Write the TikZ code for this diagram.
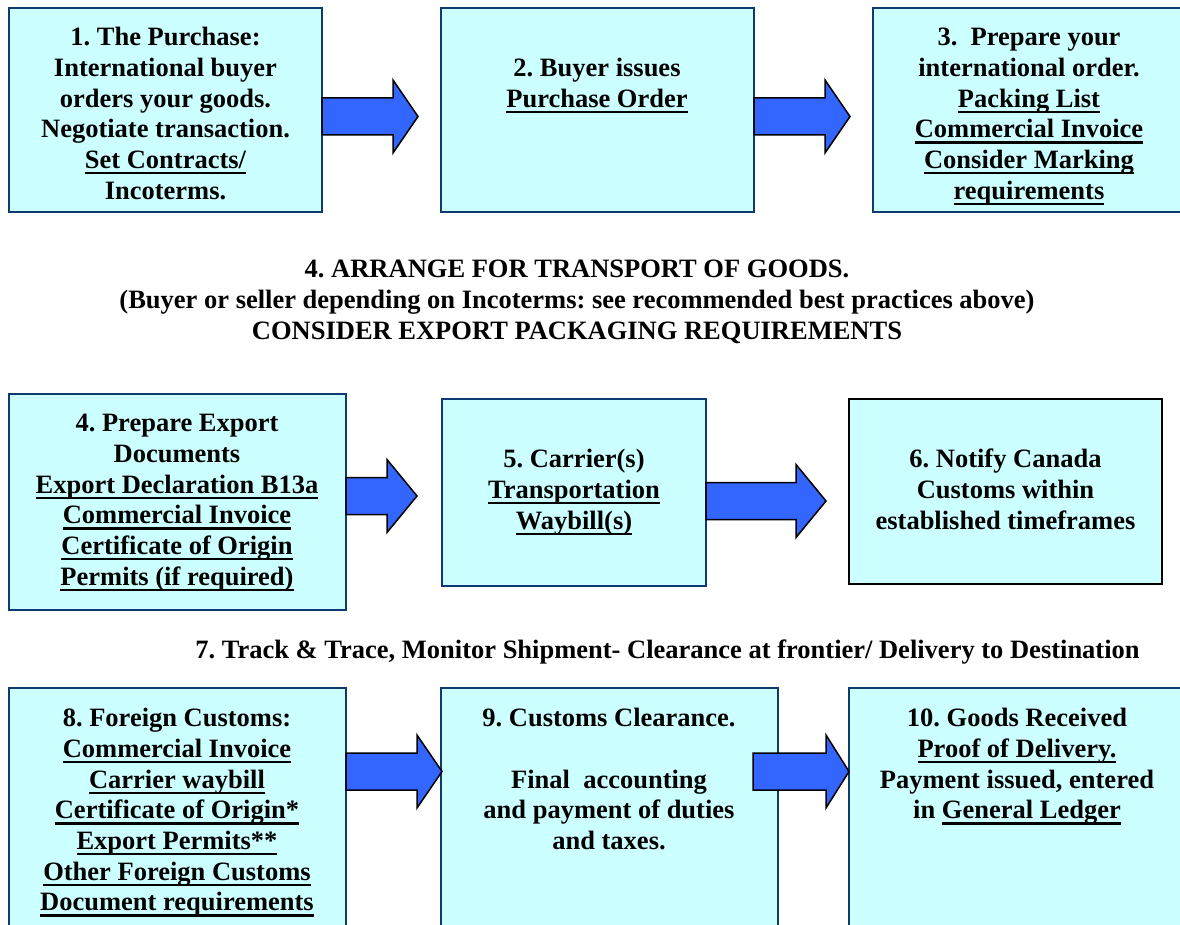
\documentclass[tikz,border=0pt]{standalone}
\usepackage{fontspec}
\setmainfont{Liberation Serif}
\usetikzlibrary{calc}
\frenchspacing
\definecolor{boxfill}{HTML}{CCFFFF}
\definecolor{boxline}{HTML}{0D3B70}
\definecolor{arrfill}{HTML}{3366FF}
\newsavebox{\ulbox}
\newcommand{\ulx}[1]{\sbox{\ulbox}{#1}\leavevmode\rlap{\rule[-6pt]{\wd\ulbox}{2.4pt}}\usebox{\ulbox}}
% #1 start point, #2 tip point, #3 head length
\newcommand{\blockarrow}[3]{%
  \filldraw[barrow] let \p1=(#1), \p2=(#2) in
    (\x1,\y2+18.5pt) -- (\x2-#3,\y2+18.5pt) -- (\x2-#3,\y2+36.5pt) -- (\p2)
    -- (\x2-#3,\y2-36.5pt) -- (\x2-#3,\y2-18.5pt) -- (\x1,\y2-18.5pt) -- cycle;}
\begin{document}
\begin{tikzpicture}[x=1pt,y=-1pt,
  box/.style={draw=boxline, line width=2.2pt, fill=boxfill, rectangle, anchor=north west, inner sep=0pt, outer sep=0pt},
  blackbox/.style={box, draw=black, line width=2.8pt},
  txt/.style={anchor=north, inner sep=0pt, align=center, font=\frenchspacing\bfseries\fontsize{26.5}{30.7}\selectfont},
  barrow/.style={fill=arrfill, draw=black, line width=1.5pt, line join=miter}]
\useasboundingbox (0,0) rectangle (1180,925);
% row 1
\node[box, minimum width=313pt, minimum height=204pt] (b1) at (9,8) {};
\node[box, minimum width=313pt, minimum height=204pt] (b2) at (441,8) {};
\node[box, minimum width=312pt, minimum height=204pt] (b3) at (873,8) {};
\node[txt] (t1) at (165.5,24) {\strut 1. The Purchase:\\ International buyer\\ orders your goods.\\ Negotiate transaction.\\ \ulx{Set Contracts/}\\ Incoterms.};
\node[txt] (t2) at (597,55) {\strut 2. Buyer issues\\ \ulx{Purchase Order}};
\node[txt] (t3) at (1029,24) {\strut 3.\ \ Prepare your\\ international order.\\ \ulx{Packing List}\\ \ulx{Commercial Invoice}\\ \ulx{Consider Marking}\\ \ulx{requirements}};
\coordinate (a1t) at (418,116.5);
\coordinate (a2t) at (850,116.5);
\blockarrow{b1.east}{a1t}{25pt}
\blockarrow{b2.east}{a2t}{25pt}
% title
\node[txt] (tt) at (577,256) {\strut 4. ARRANGE FOR TRANSPORT OF GOODS.\\ (Buyer or seller depending on Incoterms: see recommended best practices above)\\ CONSIDER EXPORT PACKAGING REQUIREMENTS};
% row 2
\node[box, minimum width=337pt, minimum height=216pt] (b4) at (9,394) {};
\node[box, minimum width=264pt, minimum height=187pt] (b5) at (442,399) {};
\node[blackbox, minimum width=313pt, minimum height=185pt] (b6) at (849,399) {};
\node[txt] (t4) at (177,410) {\strut 4. Prepare Export\\ Documents\\ \ulx{Export Declaration B13a}\\ \ulx{Commercial Invoice}\\ \ulx{Certificate of Origin}\\ \ulx{Permits (if required)}};
\node[txt] (t5) at (574,446) {\strut 5. Carrier(s)\\ \ulx{Transportation}\\ \ulx{Waybill(s)}};
\node[txt] (t6) at (1005.5,446) {\strut 6. Notify Canada\\ Customs within\\ established timeframes};
\coordinate (a3t) at (417,496);
\coordinate (a4t) at (826,501);
\blockarrow{b4.east}{a3t}{30pt}
\blockarrow{b5.east}{a4t}{30pt}
% line 7
\node[txt] (t7) at (667.5,637) {\strut 7. Track \& Trace, Monitor Shipment- Clearance at frontier/ Delivery to Destination};
% row 3
\node[box, minimum width=337pt, minimum height=260pt] (b8) at (9,688) {};
\node[box, minimum width=337pt, minimum height=260pt] (b9) at (441,688) {};
\node[box, minimum width=336pt, minimum height=260pt] (b10) at (849,688) {};
\node[txt] (t8) at (177,705) {\strut 8. Foreign Customs:\\ \ulx{Commercial Invoice}\\ \ulx{Carrier waybill}\\ \ulx{Certificate of Origin*}\\ \ulx{Export Permits**}\\ \ulx{Other Foreign Customs}\\ \ulx{Document requirements}};
\node[txt] (t9) at (609,705) {\strut 9. Customs Clearance.\\[30.7pt] Final\ \ accounting\\ and payment of duties\\ and taxes.};
\node[txt] (t10) at (1017,705) {\strut 10. Goods Received\\ \ulx{Proof of Delivery.}\\ Payment issued, entered\\ in \ulx{General Ledger}};
\coordinate (a5t) at (442,771.5);
\coordinate (a6s) at (753,771.5);
\coordinate (a6t) at (849,771.5);
\blockarrow{b8.east}{a5t}{25pt}
\blockarrow{a6s}{a6t}{23pt}
\end{tikzpicture}
\end{document}
